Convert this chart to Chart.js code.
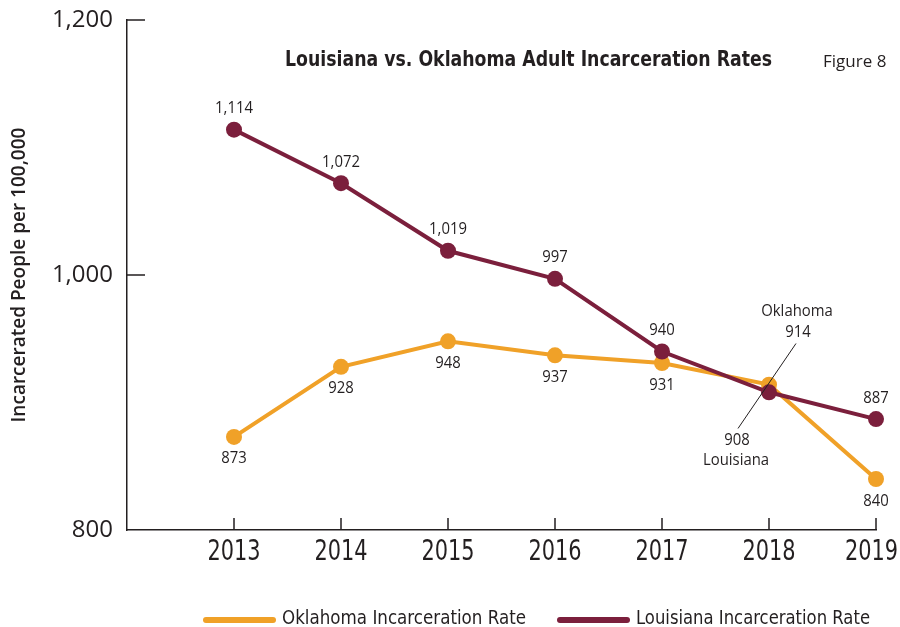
<!DOCTYPE html>
<html>
<head>
<meta charset="utf-8">
<script src="https://cdn.jsdelivr.net/npm/chart.js@4.4.0/dist/chart.umd.min.js"></script>
<style>
  body { margin: 0; background: #fff; }
  #wrap { width: 900px; height: 627px; position: relative; }
</style>
</head>
<body>
<div id="wrap"><canvas id="chart"></canvas></div>
<script>
// data
const years = [2013, 2014, 2015, 2016, 2017, 2018, 2019];
const oklahoma = [873, 928, 948, 937, 931, 914, 840];
const louisiana = [1114, 1072, 1019, 997, 940, 908, 887];
const yTicks = [800, 1000, 1200];
const seriesNames = ['Oklahoma Incarceration Rate', 'Louisiana Incarceration Rate'];

const orange = '#F0A128';
const maroon = '#7B1F3C';
const ink = '#231F20';
const cond = "'DejaVu Sans Condensed', 'DejaVu Sans', sans-serif";
const sans = "'Open Sans', 'Noto Sans', sans-serif";

const fmt = v => v.toLocaleString('en-US');

// squeeze text horizontally to fake a condensed face
function squeezed(ctx, text, x, y, squeeze) {
    const w = ctx.measureText(text).width;
    ctx.fillText(text, x, y, w * squeeze);
    return w * squeeze;
}

const decor = {
    id: 'decor',
    afterDraw(chart) {
        const ctx = chart.ctx;
        const xs = chart.scales.x;
        const ys = chart.scales.y;
        const area = chart.chartArea;

        // inward tick marks
        ctx.save();
        ctx.strokeStyle = ink;
        ctx.lineWidth = 1.5;
        ctx.beginPath();
        yTicks.slice(1).forEach(t => {
            const y = ys.getPixelForValue(t);
            ctx.moveTo(area.left, y);
            ctx.lineTo(area.left + 18, y);
        });
        years.forEach(yr => {
            const x = xs.getPixelForValue(yr);
            ctx.moveTo(x, area.bottom);
            ctx.lineTo(x, area.bottom - 12);
        });
        ctx.stroke();

        // year labels under the axis
        ctx.fillStyle = ink;
        ctx.textAlign = 'center';
        ctx.textBaseline = 'middle';
        ctx.font = "29px " + cond;
        years.forEach(yr => {
            const w = ctx.measureText(String(yr)).width * 0.8;
            const x = Math.min(xs.getPixelForValue(yr), 898 - w / 2);
            squeezed(ctx, String(yr), x, area.bottom + 22, 0.8);
        });

        // value labels
        ctx.font = "16px " + sans;
        const okPts = chart.getDatasetMeta(0).data;
        const laPts = chart.getDatasetMeta(1).data;
        okPts.forEach((p, i) => {
            if (i === 5) return;
            squeezed(ctx, fmt(oklahoma[i]), p.x, p.y + 22, 0.93);
        });
        laPts.forEach((p, i) => {
            if (i === 5) return;
            squeezed(ctx, fmt(louisiana[i]), p.x, p.y - 21, 0.93);
        });

        // 2018 callouts with leader line
        const ok18 = okPts[5], la18 = laPts[5];
        const mx = (ok18.x + la18.x) / 2, my = (ok18.y + la18.y) / 2;
        ctx.lineWidth = 1;
        ctx.beginPath();
        ctx.moveTo(mx + 27, my - 45);
        ctx.lineTo(mx - 31, my + 40);
        ctx.stroke();
        squeezed(ctx, 'Oklahoma', mx + 28, my - 77, 0.93);
        squeezed(ctx, fmt(oklahoma[5]), mx + 29, my - 56, 0.93);
        squeezed(ctx, fmt(louisiana[5]), mx - 32, my + 52, 0.93);
        squeezed(ctx, 'Louisiana', mx - 33, my + 72, 0.93);

        // title
        ctx.textAlign = 'left';
        ctx.font = "bold 21px " + cond;
        ctx.fillText('Louisiana vs. Oklahoma Adult Incarceration Rates', 285, 61, 487);
        ctx.font = "17px " + sans;
        ctx.fillText('Figure 8', 823, 62, 65);

        // legend
        const legend = [
            { text: seriesNames[0], color: orange, x: 203, w: 244 },
            { text: seriesNames[1], color: maroon, x: 557, w: 234 }
        ];
        ctx.lineCap = 'round';
        ctx.lineWidth = 6;
        ctx.font = "20px " + cond;
        legend.forEach(l => {
            ctx.strokeStyle = l.color;
            ctx.beginPath();
            ctx.moveTo(l.x + 3, 620);
            ctx.lineTo(l.x + 70, 620);
            ctx.stroke();
            ctx.fillText(l.text, l.x + 79, 619, l.w);
        });
        ctx.restore();
    }
};

new Chart(document.getElementById('chart'), {
    type: 'line',
    data: {
        datasets: [
            {
                label: seriesNames[0],
                data: years.map((yr, i) => ({ x: yr, y: oklahoma[i] })),
                borderColor: orange,
                backgroundColor: orange,
                pointBackgroundColor: orange,
                pointBorderWidth: 0,
                pointRadius: 8,
                borderWidth: 4,
                clip: false,
                order: 1
            },
            {
                label: seriesNames[1],
                data: years.map((yr, i) => ({ x: yr, y: louisiana[i] })),
                borderColor: maroon,
                backgroundColor: maroon,
                pointBackgroundColor: maroon,
                pointBorderWidth: 0,
                pointRadius: 8,
                borderWidth: 4,
                clip: false,
                order: 0
            }
        ]
    },
    options: {
        responsive: true,
        maintainAspectRatio: false,
        animation: false,
        layout: { padding: { top: 20, right: 24, bottom: 0, left: 0 } },
        plugins: {
            legend: { display: false },
            tooltip: { enabled: false }
        },
        scales: {
            x: {
                type: 'linear',
                min: 2012,
                max: 2019,
                grid: { display: false, drawTicks: false },
                border: { display: true, color: ink, width: 1.5 },
                ticks: { display: false, stepSize: 1 },
                afterFit: s => { s.height = 97; s.paddingLeft = 0; s.paddingRight = 0; }
            },
            y: {
                min: 800,
                max: 1200,
                grid: { display: false, drawTicks: false },
                border: { display: true, color: ink, width: 1.5 },
                ticks: {
                    stepSize: 200,
                    padding: 14,
                    color: ink,
                    font: { family: sans, size: 24 },
                    callback: v => fmt(v)
                },
                title: {
                    display: true,
                    text: 'Incarcerated People per 100,000',
                    color: ink,
                    font: { family: sans, size: 19, weight: '600' },
                    padding: { top: 8, bottom: 0 }
                },
                afterFit: s => { s.width = 127; s.paddingTop = 0; s.paddingBottom = 0; }
            }
        }
    },
    plugins: [decor]
});
</script>
</body>
</html>
